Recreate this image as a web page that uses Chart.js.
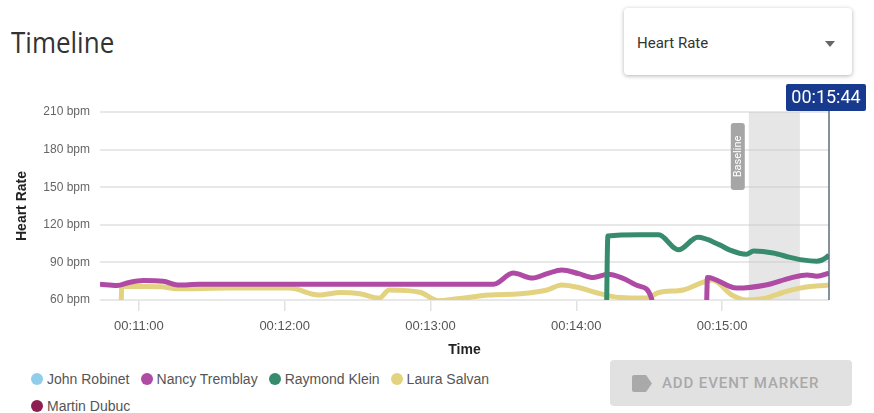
<!DOCTYPE html>
<html>
<head>
<meta charset="utf-8">
<script src="https://cdn.jsdelivr.net/npm/chart.js@4.4.1/dist/chart.umd.min.js"></script>
<style>
  body { margin: 0; width: 874px; height: 413px; position: relative; overflow: hidden; background: #fff; font-family: Roboto, Arial, sans-serif; }
  #title { position: absolute; left: 11px; top: 27px; font: 26px/26px "Open Sans", sans-serif; color: #333; transform: scaleY(1.15); transform-origin: left top; }
  #picker { position: absolute; left: 624px; top: 8px; width: 228px; height: 67px; background: #fff; border-radius: 4px; box-shadow: 0 1px 4px rgba(0,0,0,0.3); }
  #picker span { position: absolute; left: 13px; top: 26px; font-size: 15px; color: #333; }
  #picker i { position: absolute; left: 201px; top: 33px; width: 0; height: 0; border-left: 5px solid transparent; border-right: 5px solid transparent; border-top: 6px solid #666; }
  #wrap { position: absolute; left: 0; top: 0; width: 874px; height: 365px; }
  #legend { position: absolute; left: 31px; top: 365px; width: 500px; display: flex; flex-wrap: wrap; column-gap: 11px; }
  #legend div { display: flex; align-items: center; height: 27px; font: 14px "Liberation Sans", Arial, sans-serif; color: #555; }
  #legend b { display: inline-block; width: 12px; height: 12px; border-radius: 50%; margin-right: 4px; }
  #marker { position: absolute; left: 610px; top: 360px; width: 242px; height: 46px; background: #e1e1e1; border-radius: 4px; color: #a9a9a9; font-size: 15px; font-weight: 500; letter-spacing: 0.9px; }
  #marker i { position: absolute; left: 22px; top: 15px; width: 20px; height: 17px; background: #a9a9a9; clip-path: polygon(0 0, 70% 0, 100% 50%, 70% 100%, 0 100%); border-radius: 2px; }
  #marker span { position: absolute; left: 52px; top: 14px; }
</style>
</head>
<body>
<div id="title">Timeline</div>
<div id="picker"><span>Heart Rate</span><i></i></div>
<div id="wrap"><canvas id="timeline"></canvas></div>
<div id="legend"></div>
<div id="marker"><i></i><span>ADD EVENT MARKER</span></div>
<script>
const seriesNames = ['John Robinet', 'Nancy Tremblay', 'Raymond Klein', 'Laura Salvan', 'Martin Dubuc'];
const seriesColors = ['#8fcdea', '#af4ba5', '#378c6e', '#e3d381', '#8c1f4f'];

// times in seconds since the session started, heart rate in bpm
const johnTimes = [];
const johnBpm = [];
const nancyTimes = [644, 651, 656, 662, 670, 676, 685, 726, 767, 806, 814, 822, 828, 834, 841, 847, 853, 859, 866, 871, 873, 893, 894, 906, 918, 928, 935, 939, 944];
const nancyBpm   = [72.5, 71.5, 74, 75.5, 75, 72, 72.5, 72.5, 72.5, 72.5, 81.5, 77.5, 81, 84, 81, 78, 80.5, 77.5, 71, 61, 0, 0, 78, 69.5, 72, 77.5, 80, 79, 81.5];
const raymondTimes = [644, 852, 853, 866, 874, 880, 882, 890, 899, 903, 910, 913, 921, 928, 933, 939, 943, 944];
const raymondBpm   = [0, 0, 111, 112, 112, 102, 100, 110, 104, 100, 96.5, 99, 97.5, 94, 92, 91, 94, 96];
const lauraTimes = [644, 652, 653, 669, 676, 697, 722, 734, 743, 751, 759, 763, 776, 783, 791, 804, 817, 828, 834, 841, 848, 858, 869, 874, 884, 892, 896, 904, 910, 918, 925, 932, 944];
const lauraBpm   = [0, 0, 71, 70.5, 69, 69.5, 69.5, 64, 66, 65, 61.5, 68, 66, 59.5, 61, 64, 65, 68, 72, 70, 66, 62, 61.5, 66, 68, 74, 76, 64, 60, 61.5, 66, 69.5, 72];
const martinTimes = [];
const martinBpm = [];

const timeTicks = [660, 720, 780, 840, 900];
const bpmTicks = [60, 90, 120, 150, 180, 210];
const windowStart = 644;
const currentTime = 944;
const baselineStart = 911;
const baselineEnd = 932;

const fmt = s => '00:' + String(Math.floor(s / 60)).padStart(2, '0') + ':' + String(s % 60).padStart(2, '0');
const pts = (t, v) => t.map((x, i) => ({x: x, y: v[i]}));

const seriesData = [
  pts(johnTimes, johnBpm),
  pts(nancyTimes, nancyBpm),
  pts(raymondTimes, raymondBpm),
  pts(lauraTimes, lauraBpm),
  pts(martinTimes, martinBpm)
];
const drawOrder = [0, 2, 1, 3, 4];

const legend = document.getElementById('legend');
seriesNames.forEach((n, i) => {
  const d = document.createElement('div');
  d.innerHTML = '<b style="background:' + seriesColors[i] + '"></b>' + n;
  legend.appendChild(d);
});

const overlay = {
  id: 'overlay',
  beforeDatasetsDraw(chart) {
    const {ctx, chartArea: a, scales: {x}} = chart;
    const x1 = x.getPixelForValue(baselineStart), x2 = x.getPixelForValue(baselineEnd);
    ctx.save();
    ctx.fillStyle = 'rgba(200,200,200,0.45)';
    ctx.fillRect(x1, a.top, x2 - x1, a.bottom - a.top);
    ctx.restore();
  },
  afterDatasetsDraw(chart) {
    const {ctx, chartArea: a, scales: {x}} = chart;
    const x1 = x.getPixelForValue(baselineStart);
    ctx.save();
    // baseline tag
    ctx.fillStyle = '#a6a6a6';
    ctx.beginPath();
    ctx.roundRect(x1 - 18, a.top + 11, 14, 67, 3);
    ctx.fill();
    ctx.translate(x1 - 11, a.top + 44.5);
    ctx.rotate(-Math.PI / 2);
    ctx.fillStyle = '#fff';
    ctx.font = '11px Roboto';
    ctx.textAlign = 'center';
    ctx.textBaseline = 'middle';
    ctx.fillText('Baseline', 0, 0);
    ctx.restore();

    // current time marker
    const xn = x.getPixelForValue(currentTime);
    ctx.save();
    ctx.strokeStyle = '#5d6b82';
    ctx.lineWidth = 1.5;
    ctx.beginPath();
    ctx.moveTo(xn, a.top - 1);
    ctx.lineTo(xn, a.bottom);
    ctx.stroke();
    ctx.fillStyle = '#173a8e';
    ctx.beginPath();
    ctx.roundRect(xn - 43, a.top - 28, 80, 27, 2);
    ctx.fill();
    ctx.fillStyle = '#fff';
    ctx.font = '18px Roboto';
    ctx.textAlign = 'center';
    ctx.textBaseline = 'middle';
    ctx.fillText(fmt(currentTime), xn - 3, a.top - 14);
    ctx.restore();
  }
};

new Chart(document.getElementById('timeline'), {
  type: 'line',
  data: {
    datasets: seriesNames.map((n, i) => ({
      label: n,
      data: seriesData[i],
      borderColor: seriesColors[i],
      backgroundColor: seriesColors[i],
      borderWidth: 5,
      pointRadius: 0,
      cubicInterpolationMode: 'monotone',
      borderJoinStyle: 'round',
      order: drawOrder[i]
    }))
  },
  options: {
    responsive: true,
    maintainAspectRatio: false,
    animation: false,
    layout: { padding: { top: 112, right: 45, left: 0, bottom: 0 } },
    plugins: {
      legend: { display: false },
      tooltip: { enabled: false }
    },
    scales: {
      x: {
        type: 'linear',
        min: windowStart,
        max: currentTime,
        afterBuildTicks: s => { s.ticks = timeTicks.map(v => ({value: v})); },
        afterFit: s => { s.height = 65; },
        border: { display: false },
        grid: { drawOnChartArea: false, tickLength: 11, color: '#e2e2e2', lineWidth: 1.5 },
        ticks: { padding: 8, color: '#555', font: { family: 'Liberation Sans', size: 13 }, callback: v => fmt(v) },
        title: { display: true, text: 'Time', color: '#222', padding: { top: 0, bottom: 6 }, font: { family: 'Liberation Sans', size: 14, weight: 'bold' } }
      },
      y: {
        min: 60,
        max: 210,
        afterBuildTicks: s => { s.ticks = bpmTicks.map(v => ({value: v})); },
        afterFit: s => { s.width = 100; },
        border: { display: false },
        grid: { drawTicks: false, color: '#e8e8e8', lineWidth: 2 },
        ticks: { padding: 10, color: '#666', font: { family: 'Liberation Sans', size: 12 }, callback: v => v + ' bpm' },
        title: { display: true, text: 'Heart Rate', color: '#222', padding: { top: 14, bottom: 0 }, font: { family: 'Liberation Sans', size: 14, weight: 'bold' } }
      }
    }
  },
  plugins: [overlay]
});
</script>
</body>
</html>
